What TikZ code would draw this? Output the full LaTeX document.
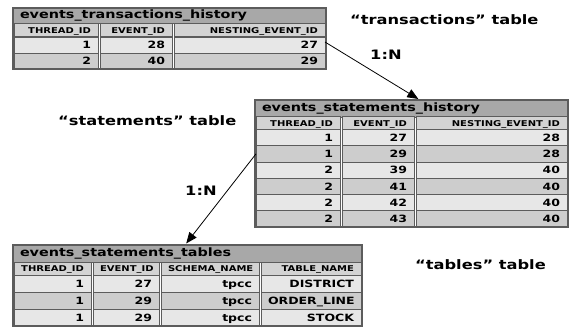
\documentclass[tikz,border=0pt]{standalone}
\usepackage{fontspec}
\usepackage{tikz}
\usetikzlibrary{arrows.meta,positioning}
\newfontfamily\tblfont[FakeStretch=1.25]{DejaVu Sans}
\definecolor{titlegray}{HTML}{A8A8A8}
\definecolor{headgray}{HTML}{D3D3D3}
\definecolor{lightrow}{HTML}{E7E7E7}
\definecolor{darkrow}{HTML}{CDCDCD}
\definecolor{rulegray}{HTML}{5C5C5C}
\tikzset{>/.tip={Triangle[length=11pt,width=9pt]}}
\tikzset{
  cell/.style={draw=rulegray,line width=0.8pt,inner xsep=7pt,inner ysep=0pt,outer sep=0pt,align=right},
  titlebar/.style={cell,fill=titlegray,anchor=north west,align=left,minimum height=#1,
    text height=8.5pt,text depth=2.5pt,font=\tblfont\bfseries\fontsize{11.5}{12}\selectfont},
  headcell/.style={cell,fill=headgray,minimum height=13pt,text height=5.9pt,text depth=0pt,
    font=\tblfont\bfseries\fontsize{8}{9}\selectfont},
  datacell/.style={cell,minimum height=#1,text height=7.3pt,text depth=0pt,
    font=\tblfont\bfseries\fontsize{10}{11}\selectfont},
  row 1/.style={fill=lightrow},row 2/.style={fill=darkrow},
  row 3/.style={row 1},row 4/.style={row 2},row 5/.style={row 1},row 6/.style={row 2},
  frame/.style={draw=rulegray,line width=1.2pt},
  note/.style={inner sep=0pt,anchor=base west,font=\tblfont\bfseries\fontsize{13}{15}\selectfont},
  link/.style={->,line width=0.8pt,shorten >=2pt}
}

\begin{document}
\begin{tikzpicture}[x=1pt,y=-1pt]
  \useasboundingbox (0,0) rectangle (571,327);
  % transactions table
  \node[titlebar=15.5pt,text width=299pt] (trx) at (13,8) {events\_transactions\_history};
  \foreach \xa/\xb/\txt [count=\n,evaluate=\xb as \tw using \xb-\xa-16] in
      {13/99/THREAD\_ID,99/173/EVENT\_ID,173/326/NESTING\_EVENT\_ID}
    \node[headcell,text width=\tw pt] (trx-h-\n) at ({(\xa+\xb)/2},30.25) {\txt};
  \foreach \va/\vb/\vc [count=\k] in {1/28/27,2/40/29} {
    \node[datacell=16pt,row \k,text width=70pt] (trx-\k-1) at (56,{29+16*\k}) {\va};
    \node[datacell=16pt,row \k,text width=58pt] (trx-\k-2) at (136,{29+16*\k}) {\vb};
    \node[datacell=16pt,row \k,text width=137pt] (trx-\k-3) at (249.5,{29+16*\k}) {\vc};
  }
  \draw[frame] (trx.north west) rectangle (trx.east |- trx-2-3.south);

  % statements table
  \node[titlebar=17pt,text width=299pt] (stm) at (255,100) {events\_statements\_history};
  \foreach \xa/\xb/\txt [count=\n,evaluate=\xb as \tw using \xb-\xa-16] in
      {255/341/THREAD\_ID,341/415/EVENT\_ID,415/568/NESTING\_EVENT\_ID}
    \node[headcell,text width=\tw pt] (stm-h-\n) at ({(\xa+\xb)/2},123.25) {\txt};
  \foreach \va/\vb/\vc [count=\k] in {1/27/28,1/29/28,2/39/40,2/41/40,2/42/40,2/43/40} {
    \node[datacell=16.25pt,row \k,text width=70pt] (stm-\k-1) at (298,{121.375+16.25*\k}) {\va};
    \node[datacell=16.25pt,row \k,text width=58pt] (stm-\k-2) at (378,{121.375+16.25*\k}) {\vb};
    \node[datacell=16.25pt,row \k,text width=137pt] (stm-\k-3) at (491.5,{121.375+16.25*\k}) {\vc};
  }
  \draw[frame] (stm.north west) rectangle (stm.east |- stm-6-3.south);

  % tables table
  \node[titlebar=17pt,text width=335pt] (evt) at (13,245) {events\_statements\_tables};
  \foreach \xa/\xb/\txt [count=\n,evaluate=\xb as \tw using \xb-\xa-16] in
      {13/92/THREAD\_ID,92/160/EVENT\_ID,160/260/SCHEMA\_NAME,260/362/TABLE\_NAME}
    \node[headcell,text width=\tw pt] (evt-h-\n) at ({(\xa+\xb)/2},268.5) {\txt};
  \foreach \va/\vb/\vc/\vd [count=\k] in {1/27/tpcc/DISTRICT,1/29/tpcc/ORDER\_LINE,1/29/tpcc/STOCK} {
    \node[datacell=17pt,row \k,text width=63pt] (evt-\k-1) at (52.5,{266.5+17*\k}) {\va};
    \node[datacell=17pt,row \k,text width=52pt] (evt-\k-2) at (126,{266.5+17*\k}) {\vb};
    \node[datacell=17pt,row \k,text width=84pt] (evt-\k-3) at (210,{266.5+17*\k}) {\vc};
    \node[datacell=17pt,row \k,text width=86pt] (evt-\k-4) at (311,{266.5+17*\k}) {\vd};
  }
  \draw[frame] (evt.north west) rectangle (evt.east |- evt-3-4.south);

  % notes
  \node[note] (trxnote) at (350,24) {“transactions” table};
  \node[note] (stmnote) at (58,125.5) {“statements” table};
  \node[note] (evtnote) at (415,269.5) {“tables” table};
  \node[note] (card1) at (370,59) {1:N};
  \node[note] (card2) at (185,195) {1:N};

  \draw[link] ([yshift=3pt]trx-1-3.east) -- ([xshift=165pt]stm.north west);
  \draw[link] (stm-2-1.west) -- ([xshift=172pt]evt.north west);
\end{tikzpicture}
\end{document}
